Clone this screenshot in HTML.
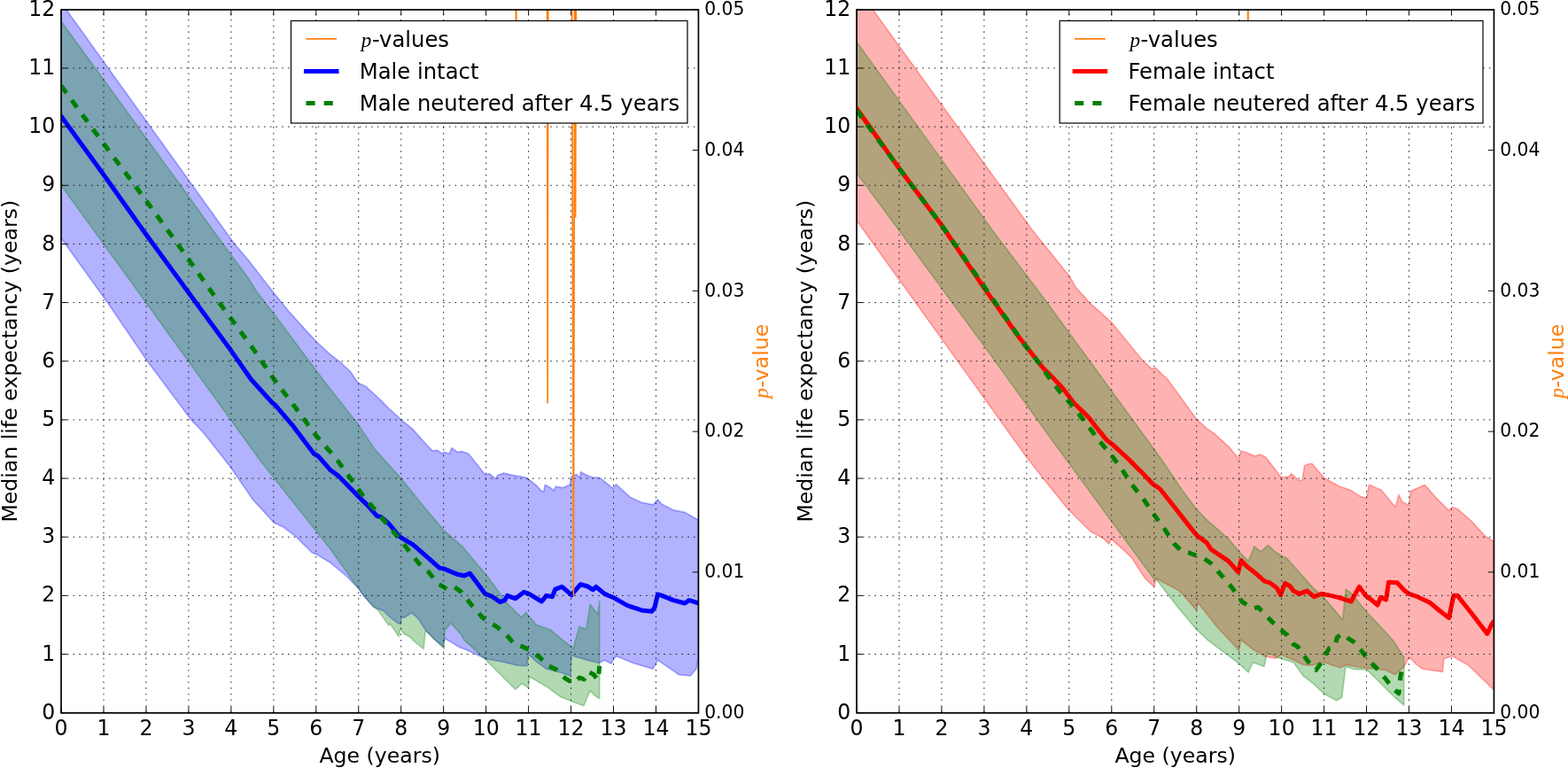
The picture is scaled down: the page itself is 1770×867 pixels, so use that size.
<!DOCTYPE html><html><head><meta charset="utf-8"><title>Median life expectancy</title><style>
html,body{margin:0;padding:0;background:#fff;}svg{display:block;}
text{font-family:"DejaVu Sans","Liberation Sans",sans-serif;fill:#000;}
.m{font-family:"Liberation Serif","DejaVu Serif",serif;font-style:italic;}
</style></head><body>
<svg width="1770" height="867" viewBox="0 0 1770 867">
<rect x="0" y="0" width="1770" height="867" fill="#fff"/>
<defs><clipPath id="clipL"><rect x="69.04" y="10.78" width="719.40" height="793.92"/></clipPath></defs>
<g clip-path="url(#clipL)">
<path d="M69.04,2.84 L264.72,275.42 L280.06,293.28 L308.36,329.67 L326.59,352.17 L343.85,371.35 L356.80,385.25 L371.67,399.14 L375.02,401.79 L383.66,408.40 L395.65,419.65 L404.28,432.22 L412.91,436.19 L421.55,444.13 L430.18,452.07 L438.33,460.67 L448.88,469.93 L452.72,473.90 L465.19,483.82 L478.14,498.38 L488.21,508.96 L493.49,508.30 L499.24,512.27 L501.16,510.29 L507.39,512.27 L509.79,505.66 L516.03,510.29 L521.30,509.63 L528.98,512.27 L547.68,536.09 L552.48,534.77 L559.67,540.72 L561.59,536.75 L568.30,534.11 L576.94,536.09 L592.28,538.74 L596.12,540.72 L604.75,547.34 L611.47,554.62 L613.87,554.62 L615.30,547.34 L621.54,550.65 L625.38,553.95 L627.29,549.32 L635.45,550.65 L643.12,547.34 L645.04,538.08 L650.79,535.43 L654.63,539.40 L655.59,532.78 L661.35,536.09 L668.54,538.74 L677.17,539.40 L692.04,551.31 L695.40,546.68 L711.22,561.23 L724.17,567.19 L737.12,569.83 L742.40,563.88 L747.19,569.17 L760.14,575.79 L773.09,578.43 L788.44,587.03 L788.44,741.85 L786.04,755.08 L779.33,763.02 L766.38,761.70 L756.79,755.08 L742.40,745.16 L737.12,755.08 L714.58,748.46 L695.40,740.52 L692.04,745.16 L690.12,749.13 L682.45,745.16 L676.21,748.46 L662.78,745.16 L645.04,739.86 L644.08,763.02 L632.09,759.05 L616.74,755.08 L605.71,747.14 L596.60,738.54 L594.68,751.77 L583.65,751.11 L568.30,747.14 L548.64,743.83 L540.01,739.86 L524.18,732.59 L519.86,731.26 L502.12,720.68 L499.72,729.28 L490.61,722.00 L481.50,712.74 L472.38,698.84 L464.71,691.57 L460.87,694.21 L456.08,697.52 L453.20,696.86 L452.24,704.80 L447.92,702.81 L438.81,695.54 L433.06,689.58 L426.34,686.94 L421.55,684.95 L410.04,672.38 L404.76,664.44 L391.33,650.55 L373.11,635.33 L356.80,625.41 L352.48,624.08 L333.78,605.56 L319.87,594.97 L309.32,590.34 L305.96,586.37 L285.34,563.88 L260.88,528.15 L230.19,489.12 L215.80,473.90 L166.40,407.74 L121.32,341.58 L69.04,268.80 Z" fill="#0000ff" fill-opacity="0.3" stroke="#0000ff" stroke-opacity="0.3" stroke-width="1.69" stroke-linejoin="round"/>
<path d="M69.04,24.01 L211.48,219.85 L251.77,275.42 L280.06,313.79 L290.14,329.67 L309.32,354.15 L356.80,418.33 L373.11,439.50 L379.82,448.10 L404.76,479.85 L423.46,507.64 L440.73,526.83 L452.72,540.06 L476.70,569.83 L493.97,590.34 L500.68,598.28 L521.78,616.81 L540.01,638.64 L548.64,648.56 L573.10,681.64 L588.45,696.86 L593.72,691.57 L605.71,705.46 L621.06,710.75 L636.41,723.32 L647.44,731.92 L649.36,723.32 L654.15,707.44 L661.83,710.09 L666.14,682.30 L674.77,693.55 L676.69,678.33 L676.69,788.82 L670.94,784.85 L666.14,779.56 L658.95,796.76 L644.56,791.47 L632.09,786.18 L616.74,774.93 L597.56,763.68 L596.60,776.91 L589.41,771.62 L581.73,778.24 L548.64,745.16 L524.18,722.66 L519.86,715.38 L508.83,703.48 L502.12,711.41 L501.16,732.59 L499.72,730.60 L490.61,722.00 L481.50,712.74 L480.06,712.74 L478.14,732.59 L469.03,725.31 L462.31,718.69 L456.08,715.38 L451.76,709.43 L450.32,718.69 L440.25,704.14 L438.81,706.12 L427.30,689.58 L421.55,684.95 L410.04,671.06 L399.96,657.82 L373.59,620.78 L293.97,520.21 L69.04,209.26 Z" fill="#008000" fill-opacity="0.3" stroke="#008000" stroke-opacity="0.3" stroke-width="1.69" stroke-linejoin="round"/>
<polyline points="69.04,131.19 117.00,197.35 164.96,264.83 260.88,395.83 283.42,428.25 307.40,454.71 310.76,457.36 329.94,479.85 354.40,512.27 359.20,514.92 373.11,530.80 382.22,537.41 402.84,558.58 414.35,569.83 425.38,582.40 430.18,583.73 438.81,591.00 450.80,605.56 466.15,614.82 469.99,618.13 480.54,627.39 496.36,641.28 500.68,641.95 516.99,648.56 524.18,649.89 530.42,647.24 547.68,670.40 554.87,673.04 564.47,679.66 569.74,677.67 572.62,672.38 579.81,675.03 581.73,675.69 591.32,668.41 597.08,670.40 611.47,679.00 616.74,672.38 623.46,673.70 626.81,665.10 634.49,662.46 645.04,671.72 655.11,659.81 662.78,661.79 669.50,665.76 672.86,662.46 682.45,670.40 690.12,673.70 692.04,674.36 708.35,683.63 724.17,688.92 735.68,690.24 739.04,685.61 742.40,671.06 747.19,672.38 760.14,677.67 773.09,680.98 777.89,677.67 788.44,680.98" fill="none" stroke="#0000ff" stroke-width="5.06" stroke-linejoin="round" stroke-linecap="square"/>
<polyline points="69.04,96.79 117.00,162.29 164.96,226.46 203.33,279.39 246.49,340.26 285.34,393.18 309.32,428.25 332.82,459.34 356.32,491.10 379.82,518.23 402.84,549.98 410.04,559.91 450.80,608.20 472.86,635.99 483.41,645.25 493.97,658.49 504.52,665.10 511.71,661.79 520.82,668.41 532.33,682.97 543.84,696.20 551.04,702.15 559.67,706.78 570.70,715.38 580.77,727.29 589.41,729.94 597.08,733.25 609.07,741.85 619.14,751.77 627.77,755.74 637.85,765.67 647.44,771.62 654.15,765.00 659.43,766.99 663.74,758.39 669.50,761.03 675.25,767.65 676.69,751.77" fill="none" stroke="#008000" stroke-width="5.06" stroke-linejoin="round" stroke-dasharray="10.1,10.1"/>
<path d="M117.00,804.70V10.78M164.96,804.70V10.78M212.92,804.70V10.78M260.88,804.70V10.78M308.84,804.70V10.78M356.80,804.70V10.78M404.76,804.70V10.78M452.72,804.70V10.78M500.68,804.70V10.78M548.64,804.70V10.78M596.60,804.70V10.78M644.56,804.70V10.78M692.52,804.70V10.78M740.48,804.70V10.78" stroke="#000" stroke-width="0.84" stroke-dasharray="1.684,5.05" fill="none"/>
<path d="M69.04,738.54H788.44M69.04,672.38H788.44M69.04,606.22H788.44M69.04,540.06H788.44M69.04,473.90H788.44M69.04,407.74H788.44M69.04,341.58H788.44M69.04,275.42H788.44M69.04,209.26H788.44M69.04,143.10H788.44M69.04,76.94H788.44" stroke="#000" stroke-width="0.84" stroke-dasharray="1.684,5.05" fill="none"/>
</g>
<path d="M69.04,804.70v-6.75M69.04,10.78v6.75M117.00,804.70v-6.75M117.00,10.78v6.75M164.96,804.70v-6.75M164.96,10.78v6.75M212.92,804.70v-6.75M212.92,10.78v6.75M260.88,804.70v-6.75M260.88,10.78v6.75M308.84,804.70v-6.75M308.84,10.78v6.75M356.80,804.70v-6.75M356.80,10.78v6.75M404.76,804.70v-6.75M404.76,10.78v6.75M452.72,804.70v-6.75M452.72,10.78v6.75M500.68,804.70v-6.75M500.68,10.78v6.75M548.64,804.70v-6.75M548.64,10.78v6.75M596.60,804.70v-6.75M596.60,10.78v6.75M644.56,804.70v-6.75M644.56,10.78v6.75M692.52,804.70v-6.75M692.52,10.78v6.75M740.48,804.70v-6.75M740.48,10.78v6.75M788.44,804.70v-6.75M788.44,10.78v6.75M69.04,804.70h6.75M69.04,738.54h6.75M69.04,672.38h6.75M69.04,606.22h6.75M69.04,540.06h6.75M69.04,473.90h6.75M69.04,407.74h6.75M69.04,341.58h6.75M69.04,275.42h6.75M69.04,209.26h6.75M69.04,143.10h6.75M69.04,76.94h6.75M69.04,10.78h6.75M788.44,804.70h-6.75M788.44,645.92h-6.75M788.44,487.13h-6.75M788.44,328.35h-6.75M788.44,169.56h-6.75M788.44,10.78h-6.75" stroke="#000" stroke-width="0.95" fill="none"/>
<g clip-path="url(#clipL)">
<polyline points="582.30,-5.00 582.60,110.00 582.90,-5.00" fill="none" stroke="#ff7f0e" stroke-width="1.69" stroke-linejoin="round"/>
<polyline points="617.60,-5.00 618.20,454.60 618.80,-5.00" fill="none" stroke="#ff7f0e" stroke-width="1.69" stroke-linejoin="round"/>
<polyline points="645.60,-5.00 647.40,672.00 648.60,-5.00" fill="none" stroke="#ff7f0e" stroke-width="1.69" stroke-linejoin="round"/>
<polyline points="649.00,-5.00 649.60,245.00 650.30,-5.00" fill="none" stroke="#ff7f0e" stroke-width="1.69" stroke-linejoin="round"/>
</g>
<rect x="69.04" y="11.00" width="719.40" height="793.85" fill="none" stroke="#000" stroke-width="1.69"/>
<text transform="matrix(1 0 0 1.06 0 -48.168)" x="62.29" y="811.30" font-size="23.6" text-anchor="end">0</text>
<text transform="matrix(1 0 0 1.06 0 -44.198)" x="62.29" y="745.14" font-size="23.6" text-anchor="end">1</text>
<text transform="matrix(1 0 0 1.06 0 -40.229)" x="62.29" y="678.98" font-size="23.6" text-anchor="end">2</text>
<text transform="matrix(1 0 0 1.06 0 -36.259)" x="62.29" y="612.82" font-size="23.6" text-anchor="end">3</text>
<text transform="matrix(1 0 0 1.06 0 -32.290)" x="62.29" y="546.66" font-size="23.6" text-anchor="end">4</text>
<text transform="matrix(1 0 0 1.06 0 -28.320)" x="62.29" y="480.50" font-size="23.6" text-anchor="end">5</text>
<text transform="matrix(1 0 0 1.06 0 -24.350)" x="62.29" y="414.34" font-size="23.6" text-anchor="end">6</text>
<text transform="matrix(1 0 0 1.06 0 -20.381)" x="62.29" y="348.18" font-size="23.6" text-anchor="end">7</text>
<text transform="matrix(1 0 0 1.06 0 -16.411)" x="62.29" y="282.02" font-size="23.6" text-anchor="end">8</text>
<text transform="matrix(1 0 0 1.06 0 -12.442)" x="62.29" y="215.86" font-size="23.6" text-anchor="end">9</text>
<text transform="matrix(1 0 0 1.06 0 -8.472)" x="62.29" y="149.70" font-size="23.6" text-anchor="end">10</text>
<text transform="matrix(1 0 0 1.06 0 -4.502)" x="62.29" y="83.54" font-size="23.6" text-anchor="end">11</text>
<text transform="matrix(1 0 0 1.06 0 -0.533)" x="62.29" y="17.38" font-size="23.6" text-anchor="end">12</text>
<text transform="matrix(1 0 0 1.07 0 -56.847)" x="69.04" y="828.4" font-size="23.6" text-anchor="middle">0</text>
<text transform="matrix(1 0 0 1.07 0 -56.847)" x="117.00" y="828.4" font-size="23.6" text-anchor="middle">1</text>
<text transform="matrix(1 0 0 1.07 0 -56.847)" x="164.96" y="828.4" font-size="23.6" text-anchor="middle">2</text>
<text transform="matrix(1 0 0 1.07 0 -56.847)" x="212.92" y="828.4" font-size="23.6" text-anchor="middle">3</text>
<text transform="matrix(1 0 0 1.07 0 -56.847)" x="260.88" y="828.4" font-size="23.6" text-anchor="middle">4</text>
<text transform="matrix(1 0 0 1.07 0 -56.847)" x="308.84" y="828.4" font-size="23.6" text-anchor="middle">5</text>
<text transform="matrix(1 0 0 1.07 0 -56.847)" x="356.80" y="828.4" font-size="23.6" text-anchor="middle">6</text>
<text transform="matrix(1 0 0 1.07 0 -56.847)" x="404.76" y="828.4" font-size="23.6" text-anchor="middle">7</text>
<text transform="matrix(1 0 0 1.07 0 -56.847)" x="452.72" y="828.4" font-size="23.6" text-anchor="middle">8</text>
<text transform="matrix(1 0 0 1.07 0 -56.847)" x="500.68" y="828.4" font-size="23.6" text-anchor="middle">9</text>
<text transform="matrix(1 0 0 1.07 0 -56.847)" x="548.64" y="828.4" font-size="23.6" text-anchor="middle">10</text>
<text transform="matrix(1 0 0 1.07 0 -56.847)" x="596.60" y="828.4" font-size="23.6" text-anchor="middle">11</text>
<text transform="matrix(1 0 0 1.07 0 -56.847)" x="644.56" y="828.4" font-size="23.6" text-anchor="middle">12</text>
<text transform="matrix(1 0 0 1.07 0 -56.847)" x="692.52" y="828.4" font-size="23.6" text-anchor="middle">13</text>
<text transform="matrix(1 0 0 1.07 0 -56.847)" x="740.48" y="828.4" font-size="23.6" text-anchor="middle">14</text>
<text transform="matrix(1 0 0 1.07 0 -56.847)" x="788.44" y="828.4" font-size="23.6" text-anchor="middle">15</text>
<text transform="matrix(1 0 0 1.08 0 -64.264)" x="795.19" y="810.30" font-size="20.3">0.00</text>
<text transform="matrix(1 0 0 1.08 0 -51.561)" x="795.19" y="651.52" font-size="20.3">0.01</text>
<text transform="matrix(1 0 0 1.08 0 -38.859)" x="795.19" y="492.73" font-size="20.3">0.02</text>
<text transform="matrix(1 0 0 1.08 0 -26.156)" x="795.19" y="333.95" font-size="20.3">0.03</text>
<text transform="matrix(1 0 0 1.08 0 -13.453)" x="795.19" y="175.16" font-size="20.3">0.04</text>
<text transform="matrix(1 0 0 1.08 0 -0.750)" x="795.19" y="16.38" font-size="20.3">0.05</text>
<text x="428.74" y="861.2" font-size="23.6" text-anchor="middle">Age (years)</text>
<text transform="translate(18.74,407.74) rotate(-90)" font-size="23.6" text-anchor="middle">Median life expectancy (years)</text>
<text transform="translate(867.04,407.74) rotate(-90)" font-size="23.6" text-anchor="middle" style="fill:#ff7f0e"><tspan class="m" style="fill:#ff7f0e">p</tspan>-value</text>
<rect x="328.50" y="23.50" width="447.50" height="115.50" fill="#fff" stroke="#000" stroke-width="1.2"/>
<line x1="345.50" y1="43.8" x2="380.00" y2="43.8" stroke="#ff7f0e" stroke-width="1.69"/>
<line x1="345.50" y1="80.5" x2="380.00" y2="80.5" stroke="#0000ff" stroke-width="5.06" stroke-linecap="square"/>
<line x1="345.50" y1="116.5" x2="380.00" y2="116.5" stroke="#008000" stroke-width="5.06" stroke-dasharray="10.1,10.1"/>
<text x="407.70" y="52.8" font-size="24.3"><tspan class="m" font-size="23.09">p</tspan><tspan x="419.90">-values</tspan></text>
<text x="405.70" y="88.8" font-size="24.3">Male intact</text>
<text x="405.70" y="124.8" font-size="24.3">Male neutered after 4.5 years</text>
<defs><clipPath id="clipR"><rect x="967.04" y="10.78" width="719.40" height="793.92"/></clipPath></defs>
<g clip-path="url(#clipR)">
<path d="M967.04,-14.36 L1165.59,260.20 L1207.32,311.81 L1214.51,324.38 L1229.86,341.58 L1254.80,364.07 L1288.85,405.76 L1299.88,416.34 L1304.20,415.02 L1318.59,428.91 L1350.72,473.24 L1362.23,483.82 L1370.38,489.12 L1387.17,504.33 L1398.68,518.23 L1400.60,508.96 L1407.79,510.95 L1416.43,514.92 L1422.66,512.93 L1428.89,516.24 L1446.16,538.74 L1454.79,538.08 L1457.67,534.77 L1466.30,542.71 L1470.14,542.04 L1472.54,525.50 L1478.29,523.52 L1481.17,523.52 L1494.60,539.40 L1512.35,549.32 L1524.34,553.29 L1535.85,560.57 L1542.56,562.55 L1545.44,547.34 L1559.35,553.29 L1575.17,572.48 L1579.01,558.58 L1582.85,566.52 L1590.52,570.49 L1592.44,554.62 L1608.27,547.34 L1621.69,562.55 L1635.60,576.45 L1639.44,572.48 L1645.19,574.46 L1661.02,588.36 L1676.85,605.56 L1686.44,611.51 L1686.44,778.90 L1657.66,751.11 L1644.71,743.83 L1639.44,740.52 L1629.85,743.83 L1628.41,758.39 L1605.87,755.08 L1600.11,751.11 L1590.52,741.85 L1585.24,752.43 L1574.69,761.70 L1564.62,756.40 L1537.28,753.76 L1519.06,750.45 L1512.82,753.76 L1502.27,750.45 L1494.12,747.14 L1481.65,751.11 L1471.10,750.45 L1460.55,745.16 L1446.16,739.20 L1439.93,743.17 L1428.42,741.19 L1414.51,733.25 L1400.60,722.00 L1398.68,734.57 L1395.32,730.60 L1374.70,708.77 L1352.16,680.32 L1350.72,688.92 L1331.54,667.09 L1305.16,653.19 L1302.76,662.46 L1292.21,652.53 L1277.34,629.38 L1254.32,608.20 L1251.92,614.16 L1244.25,606.88 L1231.30,600.27 L1219.79,589.02 L1205.88,575.12 L1178.06,540.72 L1158.88,516.24 L967.04,248.96 Z" fill="#ff0000" fill-opacity="0.3" stroke="#ff0000" stroke-opacity="0.3" stroke-width="1.69" stroke-linejoin="round"/>
<path d="M967.04,47.17 L1120.51,260.20 L1178.06,336.29 L1312.35,520.21 L1334.41,553.29 L1350.72,575.12 L1363.19,587.70 L1373.26,596.30 L1387.17,608.87 L1398.68,622.76 L1409.23,633.35 L1415.95,616.81 L1423.14,622.76 L1431.29,615.48 L1439.45,622.76 L1447.60,628.05 L1452.40,630.04 L1481.65,663.12 L1494.12,674.36 L1515.70,699.51 L1519.06,665.10 L1525.29,669.73 L1544.00,692.23 L1555.99,704.80 L1572.77,723.32 L1584.76,741.85 L1584.76,796.10 L1574.69,787.50 L1564.62,777.57 L1552.15,765.00 L1542.56,755.74 L1529.13,755.74 L1519.06,752.43 L1514.74,787.50 L1508.51,790.81 L1495.08,783.53 L1481.65,770.96 L1471.10,763.02 L1460.07,747.80 L1442.80,742.51 L1430.33,736.56 L1426.98,752.43 L1414.03,747.80 L1409.23,759.05 L1398.68,749.13 L1381.89,736.56 L1364.15,723.32 L1350.72,710.75 L1330.10,686.27 L1305.16,653.86 L1302.76,653.86 L1189.57,499.70 L1110.44,389.88 L1044.26,299.90 L967.04,195.37 Z" fill="#008000" fill-opacity="0.3" stroke="#008000" stroke-opacity="0.3" stroke-width="1.69" stroke-linejoin="round"/>
<polyline points="967.04,122.59 1015.00,190.07 1062.96,254.25 1110.44,324.38 1149.77,379.95 1177.10,415.02 1187.18,424.94 1199.65,438.17 1212.12,454.71 1228.90,471.25 1237.05,481.84 1249.52,497.06 1255.76,501.69 1274.46,518.89 1286.93,531.46 1289.81,534.11 1300.84,546.01 1309.47,551.97 1325.78,572.48 1339.69,590.34 1350.72,604.24 1362.23,612.84 1367.03,620.11 1386.69,633.35 1397.72,645.92 1401.08,632.68 1407.31,639.30 1417.38,647.24 1426.98,655.84 1433.21,657.82 1441.36,663.78 1445.68,671.72 1450.48,658.49 1456.23,661.79 1460.07,667.09 1466.78,670.40 1475.42,667.09 1483.57,673.70 1491.72,670.40 1502.27,672.38 1510.43,674.36 1519.06,677.01 1525.29,679.00 1529.13,671.72 1534.41,662.46 1541.60,672.38 1547.84,677.01 1555.03,682.97 1558.39,674.36 1564.62,677.01 1567.50,657.16 1577.09,657.82 1585.24,666.43 1590.52,670.40 1600.11,673.70 1614.02,680.32 1626.01,690.24 1635.60,697.52 1640.88,672.38 1645.19,672.38 1661.02,692.23 1678.77,715.38 1684.52,703.48 1686.44,701.49" fill="none" stroke="#ff0000" stroke-width="5.06" stroke-linejoin="round" stroke-linecap="square"/>
<polyline points="967.04,124.58 1015.00,190.07 1062.96,254.25 1156.00,388.55 1170.87,407.08 1183.34,424.94 1195.81,441.48 1204.92,451.41 1218.35,467.95 1228.90,481.84 1241.37,498.38 1253.84,512.93 1266.31,529.47 1276.86,546.01 1286.93,558.58 1289.81,561.89 1300.84,578.43 1314.75,597.62 1325.78,614.16 1334.41,622.76 1342.57,624.08 1349.28,626.73 1357.43,629.38 1367.03,635.99 1378.54,649.22 1391.49,664.44 1402.52,679.66 1414.03,686.94 1420.26,685.61 1430.33,696.20 1441.36,707.44 1452.87,716.71 1460.07,727.29 1464.86,729.94 1476.38,746.48 1485.49,756.40 1490.76,749.13 1497.00,737.88 1500.36,731.92 1506.59,729.94 1509.47,719.35 1515.70,715.38 1522.90,721.34 1529.13,725.31 1537.76,735.89 1545.92,746.48 1555.99,756.40 1564.62,766.99 1572.77,777.57 1579.01,782.87 1580.93,763.02 1583.33,754.42 1584.29,750.45" fill="none" stroke="#008000" stroke-width="5.06" stroke-linejoin="round" stroke-dasharray="10.1,10.1"/>
<path d="M1015.00,804.70V10.78M1062.96,804.70V10.78M1110.92,804.70V10.78M1158.88,804.70V10.78M1206.84,804.70V10.78M1254.80,804.70V10.78M1302.76,804.70V10.78M1350.72,804.70V10.78M1398.68,804.70V10.78M1446.64,804.70V10.78M1494.60,804.70V10.78M1542.56,804.70V10.78M1590.52,804.70V10.78M1638.48,804.70V10.78" stroke="#000" stroke-width="0.84" stroke-dasharray="1.684,5.05" fill="none"/>
<path d="M967.04,738.54H1686.44M967.04,672.38H1686.44M967.04,606.22H1686.44M967.04,540.06H1686.44M967.04,473.90H1686.44M967.04,407.74H1686.44M967.04,341.58H1686.44M967.04,275.42H1686.44M967.04,209.26H1686.44M967.04,143.10H1686.44M967.04,76.94H1686.44" stroke="#000" stroke-width="0.84" stroke-dasharray="1.684,5.05" fill="none"/>
</g>
<path d="M967.04,804.70v-6.75M967.04,10.78v6.75M1015.00,804.70v-6.75M1015.00,10.78v6.75M1062.96,804.70v-6.75M1062.96,10.78v6.75M1110.92,804.70v-6.75M1110.92,10.78v6.75M1158.88,804.70v-6.75M1158.88,10.78v6.75M1206.84,804.70v-6.75M1206.84,10.78v6.75M1254.80,804.70v-6.75M1254.80,10.78v6.75M1302.76,804.70v-6.75M1302.76,10.78v6.75M1350.72,804.70v-6.75M1350.72,10.78v6.75M1398.68,804.70v-6.75M1398.68,10.78v6.75M1446.64,804.70v-6.75M1446.64,10.78v6.75M1494.60,804.70v-6.75M1494.60,10.78v6.75M1542.56,804.70v-6.75M1542.56,10.78v6.75M1590.52,804.70v-6.75M1590.52,10.78v6.75M1638.48,804.70v-6.75M1638.48,10.78v6.75M1686.44,804.70v-6.75M1686.44,10.78v6.75M967.04,804.70h6.75M967.04,738.54h6.75M967.04,672.38h6.75M967.04,606.22h6.75M967.04,540.06h6.75M967.04,473.90h6.75M967.04,407.74h6.75M967.04,341.58h6.75M967.04,275.42h6.75M967.04,209.26h6.75M967.04,143.10h6.75M967.04,76.94h6.75M967.04,10.78h6.75M1686.44,804.70h-6.75M1686.44,645.92h-6.75M1686.44,487.13h-6.75M1686.44,328.35h-6.75M1686.44,169.56h-6.75M1686.44,10.78h-6.75" stroke="#000" stroke-width="0.95" fill="none"/>
<g clip-path="url(#clipR)">
<polyline points="1408.60,-5.00 1408.80,100.00 1409.00,-5.00" fill="none" stroke="#ff7f0e" stroke-width="1.69" stroke-linejoin="round"/>
</g>
<rect x="967.04" y="11.00" width="719.40" height="793.85" fill="none" stroke="#000" stroke-width="1.69"/>
<text transform="matrix(1 0 0 1.06 0 -48.168)" x="960.29" y="811.30" font-size="23.6" text-anchor="end">0</text>
<text transform="matrix(1 0 0 1.06 0 -44.198)" x="960.29" y="745.14" font-size="23.6" text-anchor="end">1</text>
<text transform="matrix(1 0 0 1.06 0 -40.229)" x="960.29" y="678.98" font-size="23.6" text-anchor="end">2</text>
<text transform="matrix(1 0 0 1.06 0 -36.259)" x="960.29" y="612.82" font-size="23.6" text-anchor="end">3</text>
<text transform="matrix(1 0 0 1.06 0 -32.290)" x="960.29" y="546.66" font-size="23.6" text-anchor="end">4</text>
<text transform="matrix(1 0 0 1.06 0 -28.320)" x="960.29" y="480.50" font-size="23.6" text-anchor="end">5</text>
<text transform="matrix(1 0 0 1.06 0 -24.350)" x="960.29" y="414.34" font-size="23.6" text-anchor="end">6</text>
<text transform="matrix(1 0 0 1.06 0 -20.381)" x="960.29" y="348.18" font-size="23.6" text-anchor="end">7</text>
<text transform="matrix(1 0 0 1.06 0 -16.411)" x="960.29" y="282.02" font-size="23.6" text-anchor="end">8</text>
<text transform="matrix(1 0 0 1.06 0 -12.442)" x="960.29" y="215.86" font-size="23.6" text-anchor="end">9</text>
<text transform="matrix(1 0 0 1.06 0 -8.472)" x="960.29" y="149.70" font-size="23.6" text-anchor="end">10</text>
<text transform="matrix(1 0 0 1.06 0 -4.502)" x="960.29" y="83.54" font-size="23.6" text-anchor="end">11</text>
<text transform="matrix(1 0 0 1.06 0 -0.533)" x="960.29" y="17.38" font-size="23.6" text-anchor="end">12</text>
<text transform="matrix(1 0 0 1.07 0 -56.847)" x="967.04" y="828.4" font-size="23.6" text-anchor="middle">0</text>
<text transform="matrix(1 0 0 1.07 0 -56.847)" x="1015.00" y="828.4" font-size="23.6" text-anchor="middle">1</text>
<text transform="matrix(1 0 0 1.07 0 -56.847)" x="1062.96" y="828.4" font-size="23.6" text-anchor="middle">2</text>
<text transform="matrix(1 0 0 1.07 0 -56.847)" x="1110.92" y="828.4" font-size="23.6" text-anchor="middle">3</text>
<text transform="matrix(1 0 0 1.07 0 -56.847)" x="1158.88" y="828.4" font-size="23.6" text-anchor="middle">4</text>
<text transform="matrix(1 0 0 1.07 0 -56.847)" x="1206.84" y="828.4" font-size="23.6" text-anchor="middle">5</text>
<text transform="matrix(1 0 0 1.07 0 -56.847)" x="1254.80" y="828.4" font-size="23.6" text-anchor="middle">6</text>
<text transform="matrix(1 0 0 1.07 0 -56.847)" x="1302.76" y="828.4" font-size="23.6" text-anchor="middle">7</text>
<text transform="matrix(1 0 0 1.07 0 -56.847)" x="1350.72" y="828.4" font-size="23.6" text-anchor="middle">8</text>
<text transform="matrix(1 0 0 1.07 0 -56.847)" x="1398.68" y="828.4" font-size="23.6" text-anchor="middle">9</text>
<text transform="matrix(1 0 0 1.07 0 -56.847)" x="1446.64" y="828.4" font-size="23.6" text-anchor="middle">10</text>
<text transform="matrix(1 0 0 1.07 0 -56.847)" x="1494.60" y="828.4" font-size="23.6" text-anchor="middle">11</text>
<text transform="matrix(1 0 0 1.07 0 -56.847)" x="1542.56" y="828.4" font-size="23.6" text-anchor="middle">12</text>
<text transform="matrix(1 0 0 1.07 0 -56.847)" x="1590.52" y="828.4" font-size="23.6" text-anchor="middle">13</text>
<text transform="matrix(1 0 0 1.07 0 -56.847)" x="1638.48" y="828.4" font-size="23.6" text-anchor="middle">14</text>
<text transform="matrix(1 0 0 1.07 0 -56.847)" x="1686.44" y="828.4" font-size="23.6" text-anchor="middle">15</text>
<text transform="matrix(1 0 0 1.08 0 -64.264)" x="1693.19" y="810.30" font-size="20.3">0.00</text>
<text transform="matrix(1 0 0 1.08 0 -51.561)" x="1693.19" y="651.52" font-size="20.3">0.01</text>
<text transform="matrix(1 0 0 1.08 0 -38.859)" x="1693.19" y="492.73" font-size="20.3">0.02</text>
<text transform="matrix(1 0 0 1.08 0 -26.156)" x="1693.19" y="333.95" font-size="20.3">0.03</text>
<text transform="matrix(1 0 0 1.08 0 -13.453)" x="1693.19" y="175.16" font-size="20.3">0.04</text>
<text transform="matrix(1 0 0 1.08 0 -0.750)" x="1693.19" y="16.38" font-size="20.3">0.05</text>
<text x="1326.74" y="861.2" font-size="23.6" text-anchor="middle">Age (years)</text>
<text transform="translate(916.74,407.74) rotate(-90)" font-size="23.6" text-anchor="middle">Median life expectancy (years)</text>
<text transform="translate(1765.04,407.74) rotate(-90)" font-size="23.6" text-anchor="middle" style="fill:#ff7f0e"><tspan class="m" style="fill:#ff7f0e">p</tspan>-value</text>
<rect x="1196.20" y="23.50" width="477.80" height="115.50" fill="#fff" stroke="#000" stroke-width="1.2"/>
<line x1="1213.20" y1="43.8" x2="1247.70" y2="43.8" stroke="#ff7f0e" stroke-width="1.69"/>
<line x1="1213.20" y1="80.5" x2="1247.70" y2="80.5" stroke="#ff0000" stroke-width="5.06" stroke-linecap="square"/>
<line x1="1213.20" y1="116.5" x2="1247.70" y2="116.5" stroke="#008000" stroke-width="5.06" stroke-dasharray="10.1,10.1"/>
<text x="1275.40" y="52.8" font-size="24.3"><tspan class="m" font-size="23.09">p</tspan><tspan x="1287.60">-values</tspan></text>
<text x="1273.40" y="88.8" font-size="24.3">Female intact</text>
<text x="1273.40" y="124.8" font-size="24.3">Female neutered after 4.5 years</text>
</svg></body></html>
